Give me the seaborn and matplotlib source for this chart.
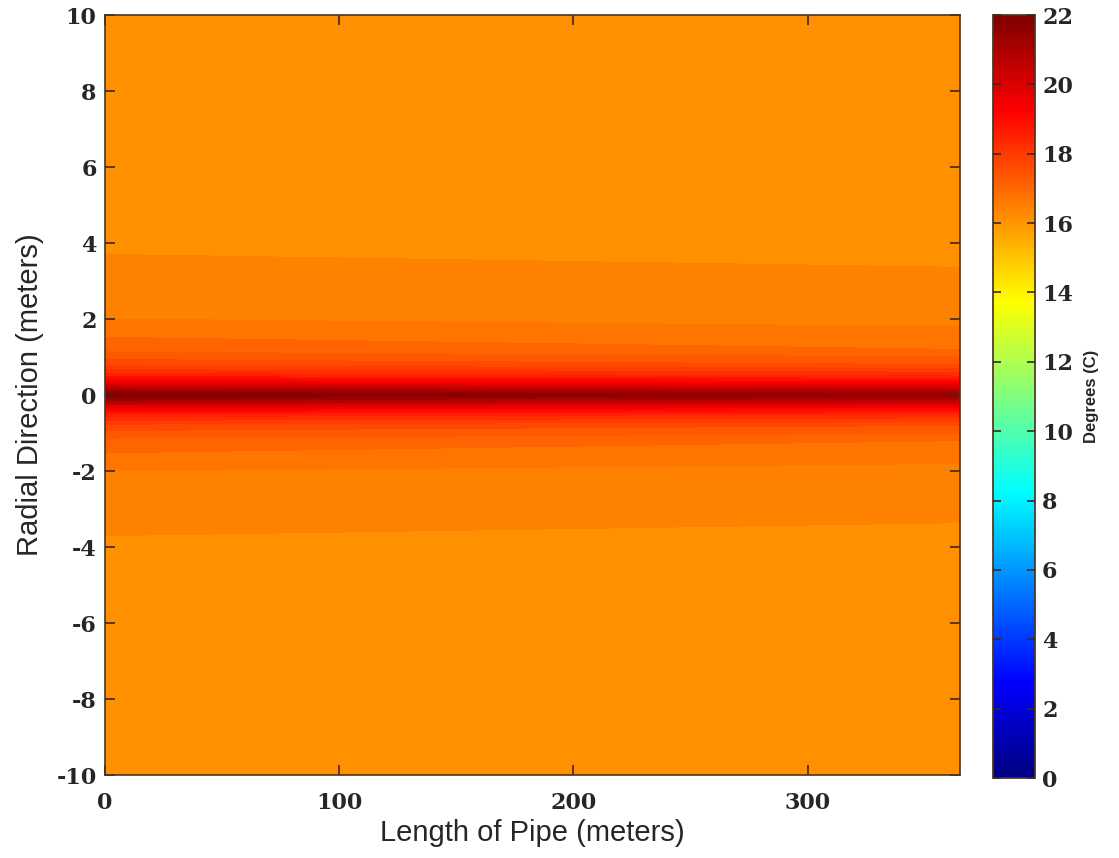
import numpy as np
import matplotlib
matplotlib.use("Agg")
import matplotlib.pyplot as plt
from matplotlib.colors import ListedColormap
import seaborn as sns

# ---- data ----
pipe_length = [0, 365]                       # x (meters)
radial = [-10, -6, -3.7, -2.0, -1.2, -0.8, -0.5, -0.3, -0.15, 0,
          0.15, 0.3, 0.5, 0.8, 1.2, 2.0, 3.7, 6, 10]   # r (meters)
temp_start = [16.1, 16.15, 16.3, 16.6, 17.1, 17.7, 18.6, 19.8, 21.0, 22.0,
              21.0, 19.8, 18.6, 17.7, 17.1, 16.6, 16.3, 16.15, 16.1]
temp_end = [16.1, 16.15, 16.25, 16.5, 16.9, 17.5, 18.4, 19.4, 20.5, 21.5,
            20.5, 19.4, 18.4, 17.5, 16.9, 16.5, 16.25, 16.15, 16.1]
levels = [16.0, 16.3, 16.6, 16.9, 17.2, 17.5, 17.8, 18.1, 18.4, 18.7, 19.0,
          19.3, 19.6, 19.9, 20.2, 20.5, 20.8, 21.1, 21.4, 21.7, 22.0]
cbar_ticks = [0, 2, 4, 6, 8, 10, 12, 14, 16, 18, 20, 22]
x_ticks = [0, 100, 200, 300]
y_ticks = [-10, -8, -6, -4, -2, 0, 2, 4, 6, 8, 10]

sns.set_theme(style="white")
plt.rcParams["font.family"] = ["DejaVu Sans"]
plt.rcParams["axes.axisbelow"] = False

# MATLAB-style jet colormap
t = np.linspace(0, 1, 256)
jet_rgb = np.stack([np.clip(1.5 - np.abs(4 * t - 3), 0, 1),
                    np.clip(1.5 - np.abs(4 * t - 2), 0, 1),
                    np.clip(1.5 - np.abs(4 * t - 1), 0, 1)], axis=1)
cmap = ListedColormap(jet_rgb)

fig = plt.figure(figsize=(11.19, 8.58), dpi=100)
ax = fig.add_axes([0.0938, 0.0967, 0.7640, 0.8858])
cax = fig.add_axes([0.8874, 0.0932, 0.0376, 0.8893])
ax.set_axisbelow(False)

Z = np.array([temp_start, temp_end]).T
cs = ax.contourf(pipe_length, radial, Z, levels=levels, cmap=cmap,
                 vmin=0, vmax=22, antialiased=False)
ax.set_xlim(0, 365)
ax.set_ylim(-10, 10)

tick_font = dict(family="DejaVu Serif", weight="bold", size=16)
ax.set_xticks(x_ticks)
ax.set_yticks(y_ticks)
ax.set_xticklabels([str(v) for v in x_ticks], **tick_font)
ax.set_yticklabels([str(v) for v in y_ticks], **tick_font)
ax.tick_params(direction="in", length=7, width=1.2, color="#3a2a1a",
               top=True, right=True, bottom=True, left=True)
ax.tick_params(axis="x", pad=12)
ax.tick_params(axis="y", pad=6)
for s in ax.spines.values():
    s.set_color("#4a3520")
    s.set_linewidth(1.2)
    s.set_zorder(5)

lab_font = dict(family="Liberation Sans", size=21)
ax.set_xlabel("Length of Pipe (meters)", labelpad=4, **lab_font)
ax.set_ylabel("Radial Direction (meters)", labelpad=9, **lab_font)

sm = matplotlib.cm.ScalarMappable(cmap=cmap, norm=matplotlib.colors.Normalize(0, 22))
cb = fig.colorbar(sm, cax=cax, ticks=cbar_ticks)
cb.ax.set_axisbelow(False)
cb.ax.set_yticklabels([str(v) for v in cbar_ticks], **tick_font)
cb.ax.tick_params(direction="in", length=6, width=1.2, color="#3a2a1a",
                  left=True, right=True, pad=5)
cb.outline.set_edgecolor("#4a3520")
cb.set_label("Degrees (C)", family="Liberation Sans", weight="bold", size=12,
             labelpad=8)

fig.savefig("out.png", dpi=100)
